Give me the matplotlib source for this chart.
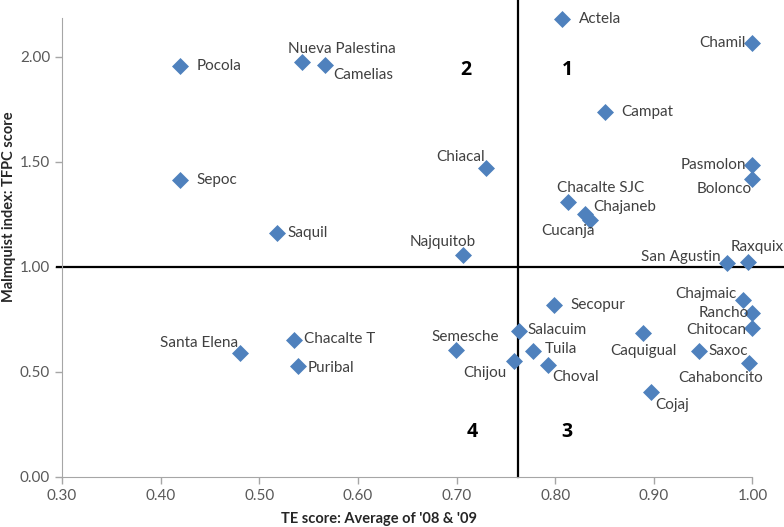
import numpy as np
import matplotlib.pyplot as plt

plt.rcParams['font.family'] = ['Lato', 'DejaVu Sans']

# Farm names, TE score (x) and Malmquist TFPC score (y)
names = ['Pocola', 'Sepoc', 'Nueva Palestina', 'Camelias', 'Saquil', 'Chiacal',
         'Najquitob', 'Actela', 'Chamil', 'Campat', 'Pasmolon', 'Bolonco',
         'Chacalte SJC', 'Chajaneb', 'Cucanja', 'San Agustin', 'Raxquix',
         'Chajmaic', 'Rancho', 'Chitocan', 'Cahaboncito', 'Saxoc', 'Caquigual',
         'Cojaj', 'Secopur', 'Salacuim', 'Tuila', 'Choval', 'Chijou', 'Semesche',
         'Santa Elena', 'Chacalte T', 'Puribal']
te = [0.420, 0.420, 0.543, 0.567, 0.518, 0.730,
      0.707, 0.807, 1.000, 0.851, 1.000, 1.000,
      0.813, 0.830, 0.835, 0.974, 0.996,
      0.990, 1.000, 1.000, 0.997, 0.946, 0.889,
      0.897, 0.799, 0.763, 0.778, 0.793, 0.758, 0.699,
      0.480, 0.535, 0.539]
tfpc = [1.957, 1.414, 1.976, 1.960, 1.162, 1.470,
        1.057, 2.180, 2.065, 1.737, 1.486, 1.419,
        1.311, 1.250, 1.224, 1.020, 1.022,
        0.840, 0.779, 0.708, 0.544, 0.600, 0.687,
        0.406, 0.819, 0.695, 0.600, 0.533, 0.552, 0.605,
        0.589, 0.652, 0.529]

# label placement: (dx px, dy px, horizontal alignment)
label_pos = {
    'Pocola': (16, 0, 'left'), 'Sepoc': (16, 0, 'left'),
    'Nueva Palestina': (-14, 13, 'left'), 'Camelias': (8, -10, 'left'),
    'Saquil': (10, 0, 'left'), 'Chiacal': (-1, 11, 'right'),
    'Najquitob': (12, 13, 'right'), 'Actela': (17, 0, 'left'),
    'Chamil': (-7, 0, 'right'), 'Campat': (16, 0, 'left'),
    'Pasmolon': (-6, 0, 'right'), 'Bolonco': (-1, -10, 'right'),
    'Chacalte SJC': (-11, 14, 'left'), 'Chajaneb': (8, 7, 'left'),
    'Cucanja': (5, -11, 'right'), 'San Agustin': (-6, 6, 'right'),
    'Raxquix': (-18, 15, 'left'), 'Chajmaic': (-6, 6, 'right'),
    'Rancho': (-4, 0, 'right'), 'Chitocan': (-6, -2, 'right'),
    'Cahaboncito': (-29, -15, 'center'), 'Saxoc': (9, 0, 'left'),
    'Caquigual': (0, -18, 'center'), 'Cojaj': (4, -13, 'left'),
    'Secopur': (16, 0, 'left'), 'Salacuim': (9, 1, 'left'),
    'Tuila': (11, 2, 'left'), 'Choval': (4, -12, 'left'),
    'Chijou': (-7, -12, 'right'), 'Semesche': (10, 13, 'center'),
    'Santa Elena': (-1, 10, 'right'), 'Chacalte T': (10, 1, 'left'),
    'Puribal': (10, -2, 'left'),
}

te_cut = 0.762
tfpc_cut = 1.0
quadrants = [('1', 0.812, 1.938), ('2', 0.709, 1.938), ('3', 0.812, 0.214), ('4', 0.716, 0.214)]

fig = plt.figure(figsize=(7.84, 5.27), dpi=100)
ax = fig.add_axes([62 / 784, 50 / 527, (784 - 62) / 784, 477 / 527])

ax.scatter(te, tfpc, marker='D', s=75, color='#4F81BD', zorder=3, linewidths=0)

for n, x, y in zip(names, te, tfpc):
    dx, dy, ha = label_pos[n]
    ax.annotate(n, (x, y), xytext=(dx, dy), textcoords='offset pixels',
                ha=ha, va='center', fontsize=11, color='#404040')

ax.axvline(te_cut, color='black', lw=1.6, zorder=2, clip_on=False)
ax.plot([0.295, 1.035], [tfpc_cut, tfpc_cut], color='black', lw=1.6, zorder=2, clip_on=False)

for q, x, y in quadrants:
    ax.text(x, y, q, fontsize=14, fontweight='bold', ha='center', va='center',
            family=['Open Sans', 'DejaVu Sans'])

ax.set_xlim(0.30, 1.032)
ax.set_ylim(0, 2.27)
ax.set_xticks(np.arange(0.3, 1.01, 0.1))
ax.set_yticks(np.arange(0, 2.01, 0.5))
ax.set_xticklabels([f'{v:.2f}' for v in np.arange(0.3, 1.01, 0.1)])
ax.set_yticklabels([f'{v:.2f}' for v in np.arange(0, 2.01, 0.5)])
ax.tick_params(colors='#A6A6A6', labelcolor='#595959', labelsize=11, length=5, width=1)

for s in ['top', 'right']:
    ax.spines[s].set_visible(False)
for s in ['left', 'bottom']:
    ax.spines[s].set_color('#A6A6A6')
ax.spines['left'].set_bounds(0, 2.185)
ax.spines['bottom'].set_bounds(0.30, 1.00)

fig.text(379 / 784, 1 - 519 / 527, "TE score: Average of '08 & '09", fontsize=10.5,
         fontweight='bold', ha='center', va='center', color='#262626')
fig.text(9 / 784, 1 - 207 / 527, 'Malmquist index: TFPC score', fontsize=10.5,
         fontweight='bold', ha='center', va='center', rotation=90, color='#262626')

fig.savefig('out.png', dpi=100)
